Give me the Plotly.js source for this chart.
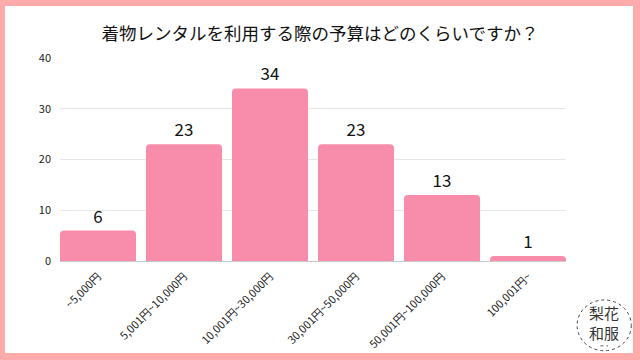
<!DOCTYPE html>
<html><head><meta charset="utf-8">
<script src="https://cdn.plot.ly/plotly-3.0.1.min.js"></script>
<style>
html,body{margin:0;padding:0;background:#fff;}
#wrap{position:relative;width:640px;height:360px;}
#chart{width:640px;height:360px;}
#frame{position:absolute;left:0;top:0;width:640px;height:360px;box-sizing:border-box;border-style:solid;border-color:#FFABAB;border-width:6px 7px 7px 5px;pointer-events:none;}
</style></head>
<body>
<div id="wrap"><div id="chart"></div><div id="frame"></div></div>
<script>
const categories = ["~5,000円","5,001円~10,000円","10,001円~30,000円","30,001円~50,000円","50,001円~100,000円","100,001円~"];
const counts = [6, 23, 34, 23, 13, 1];
const yTicks = [0, 10, 20, 30, 40];
const titleText = "着物レンタルを利用する際の予算はどのくらいですか？";

const font = "'Noto Sans CJK JP', 'Noto Sans', sans-serif";
const trace = {
  type: 'bar',
  x: categories.map((c,i)=>i),
  y: counts,
  marker: {color: '#F88DAB'},
  text: counts.map(String),
  textposition: 'outside',
  textfont: {family: font, size: 17, color: '#111'},
  cliponaxis: false,
  hoverinfo: 'none'
};
const layout = {
  width: 640, height: 360,
  margin: {l: 60, r: 74, t: 58, b: 99},
  paper_bgcolor: '#fff', plot_bgcolor: '#fff',
  showlegend: false,
  bargap: 0.116,
  barcornerradius: 4,
  title: {text: titleText, font: {family: font, size: 17.5, color: '#111'}, x: 0.5, xanchor: 'center', y: 0.905, yanchor: 'middle'},
  xaxis: {
    tickmode: 'array', tickvals: categories.map((c,i)=>i), ticktext: categories,
    range: [-0.442, 5.442], tickangle: -45,
    tickfont: {family: font, size: 11, color: '#222'},
    ticklabelstandoff: 6,
    showgrid: false, zeroline: false, showline: false, ticks: '', fixedrange: true
  },
  yaxis: {
    range: [0, 40], tickvals: yTicks, ticktext: yTicks.map(String),
    tickfont: {family: font, size: 11, color: '#222'},
    ticklabelstandoff: 8,
    gridcolor: '#e6e6e6', gridwidth: 1, zeroline: true, zerolinecolor: '#c8c8c8', zerolinewidth: 1,
    ticks: '', ticklen: 0, showline: false, fixedrange: true
  },
  shapes: [
    {type: 'circle', xref: 'paper', yref: 'paper', x0: 1.022, x1: 1.129, y0: -0.442, y1: -0.192,
     line: {color: '#444', width: 1, dash: 'dot'}, fillcolor: 'rgba(0,0,0,0)'},
    {type: 'line', xref: 'paper', yref: 'paper', x0: 1.068, x1: 1.083, y0: -0.418, y1: -0.418,
     line: {color: '#666', width: 1, dash: 'dot'}}
  ],
  annotations: [
    {xref: 'paper', yref: 'paper', x: 1.0755, y: -0.305, text: '梨花<br>和服', showarrow: false,
     font: {family: font, size: 15, color: '#333'}, xanchor: 'center', yanchor: 'middle', align: 'center'}
  ]
};
Plotly.newPlot('chart', [trace], layout, {displayModeBar: false, staticPlot: true});
</script>
</body></html>
